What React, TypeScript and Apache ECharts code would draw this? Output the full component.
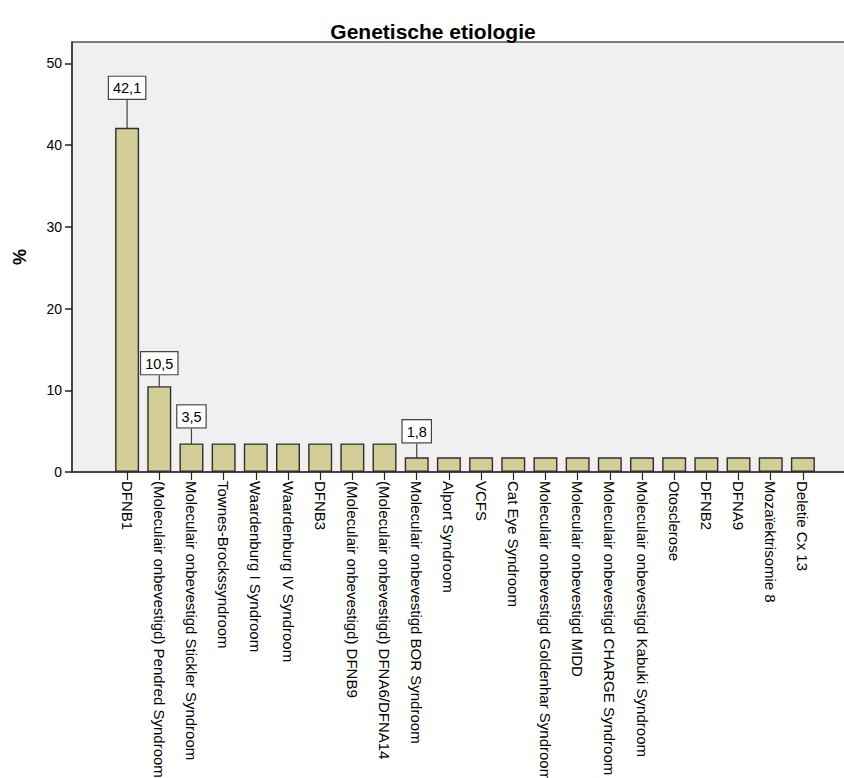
import React, { useEffect, useRef } from "react";
import * as echarts from "echarts";

const title = "Genetische etiologie";
const yAxisName = "%";
const categories = [
  "DFNB1",
  "(Moleculair onbevestigd) Pendred Syndroom",
  "Moleculair onbevestigd Stickler Syndroom",
  "Townes-Brockssyndroom",
  "Waardenburg I Syndroom",
  "Waardenburg IV Syndroom",
  "DFNB3",
  "(Moleculair onbevestigd) DFNB9",
  "(Moleculair onbevestigd) DFNA6/DFNA14",
  "Moleculair onbevestigd BOR Syndroom",
  "Alport Syndroom",
  "VCFS",
  "Cat Eye Syndroom",
  "Moleculair onbevestigd Goldenhar Syndroom",
  "Moleculair onbevestigd MIDD",
  "Moleculair onbevestigd CHARGE Syndroom",
  "Moleculair onbevestigd Kabuki Syndroom",
  "Otosclerose",
  "DFNB2",
  "DFNA9",
  "Mozaïektrisomie 8",
  "Deletie Cx 13",
];
const percentages = [
  42.1, 10.5, 3.5, 3.5, 3.5, 3.5, 3.5, 3.5, 3.5, 1.8, 1.8, 1.8, 1.8, 1.8, 1.8,
  1.8, 1.8, 1.8, 1.8, 1.8, 1.8, 1.8,
];
const labelledBars = [0, 1, 2, 9];
const yTicks = [0, 10, 20, 30, 40, 50];

// leader-line lengths (px) for the labelled bars
const leaderLength: Record<number, number> = { 0: 29, 1: 12, 2: 16, 9: 15 };

const FONT = "'Liberation Sans', Arial, sans-serif";
const Y_MAX = 52.6;

export default function App() {
  const ref = useRef<HTMLDivElement>(null);
  useEffect(() => {
    if (!ref.current) return;
    const chart = echarts.init(ref.current, undefined, { renderer: "svg" });
    const data = percentages.map((v, i) => ({
      value: v,
      label: { show: labelledBars.includes(i) },
      labelLine: { show: labelledBars.includes(i) },
    }));
    chart.setOption({
      animation: false,
      backgroundColor: "#ffffff",
      textStyle: { fontFamily: FONT },
      title: {
        text: title,
        left: 428,
        textAlign: "center",
        top: 16,
        textStyle: { fontFamily: FONT, fontSize: 21, fontWeight: "bold", color: "#000" },
      },
      grid: [
        {
          left: 72,
          right: -3,
          top: 42,
          bottom: 306,
          show: true,
          backgroundColor: "#F0F0F0",
          borderColor: "#555555",
          borderWidth: 1.5,
          containLabel: false,
          outerBoundsMode: "none",
        },
        {
          left: 111,
          right: 25,
          top: 42,
          bottom: 306,
          containLabel: false,
          outerBoundsMode: "none",
        },
      ],
      xAxis: [
        {
          gridIndex: 0,
          type: "value",
          min: 0,
          max: 1,
          axisLine: { show: true, onZero: false, lineStyle: { color: "#333", width: 1.5 } },
          axisTick: { show: false },
          axisLabel: { show: false },
          splitLine: { show: false },
        },
        {
          gridIndex: 1,
          type: "category",
          data: categories,
          axisLine: { show: false },
          axisTick: {
            show: true,
            alignWithLabel: true,
            interval: 0,
            length: 8,
            lineStyle: { color: "#222", width: 1.2 },
          },
          axisLabel: {
            interval: 0,
            rotate: -90,
            margin: 9,
            fontSize: 15,
            fontFamily: FONT,
            color: "#000",
          },
        },
      ],
      yAxis: [
        {
          gridIndex: 0,
          type: "value",
          min: 0,
          max: Y_MAX,
          name: yAxisName,
          nameLocation: "middle",
          nameRotate: 90,
          nameGap: 43,
          nameTextStyle: { fontFamily: FONT, fontSize: 18, fontWeight: "bold", color: "#000" },
          axisLine: { show: true, lineStyle: { color: "#333", width: 1.5 } },
          axisTick: {
            show: true,
            length: 7,
            customValues: yTicks,
            lineStyle: { color: "#222", width: 1.5 },
          },
          axisLabel: {
            customValues: yTicks,
            margin: 10,
            fontSize: 14,
            fontFamily: FONT,
            color: "#000",
          },
          splitLine: { show: false },
        },
        {
          gridIndex: 1,
          type: "value",
          min: 0,
          max: Y_MAX,
          show: false,
          splitLine: { show: false },
        },
      ],
      series: [
        {
          type: "bar",
          xAxisIndex: 1,
          yAxisIndex: 1,
          data,
          barWidth: 24,
          itemStyle: { color: "#D3CE97", borderColor: "#2e2e2e", borderWidth: 1.4 },
          label: {
            position: "top",
            distance: 0,
            formatter: (p: any) => String(p.value).replace(".", ","),
            fontFamily: FONT,
            fontSize: 14.5,
            color: "#000",
            backgroundColor: "#ffffff",
            borderColor: "#444",
            borderWidth: 1.2,
            padding: [4, 4, 3, 4],
          },
          labelLine: { show: true, lineStyle: { color: "#444", width: 1.2 } },
          labelLayout: (p: any) => ({ dy: -(leaderLength[p.dataIndex] ?? 10) }),
        },
      ],
    });
    return () => chart.dispose();
  }, []);
  return (
    <div
      ref={ref}
      style={{ position: "fixed", left: 0, top: 0, width: 844, height: 778, background: "#fff" }}
    />
  );
}
